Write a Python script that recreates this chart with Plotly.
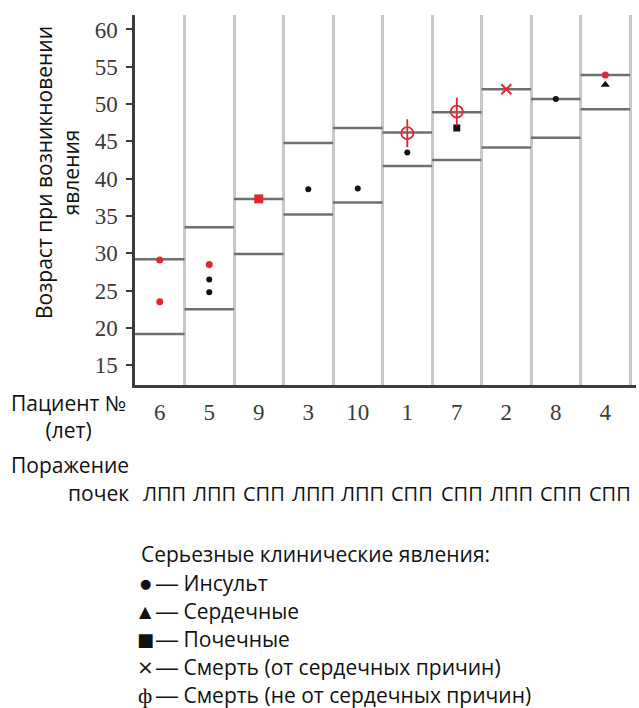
import plotly.graph_objects as go

# ---------------- data ----------------
patients = ["6", "5", "9", "3", "10", "1", "7", "2", "8", "4"]
kidney = ["ЛПП", "ЛПП", "СПП", "ЛПП", "ЛПП", "СПП", "СПП", "ЛПП", "СПП", "СПП"]
age_start = [19.2, 22.5, 29.9, 35.2, 36.8, 41.7, 42.5, 44.2, 45.5, 49.3]
age_now = [29.2, 33.5, 37.3, 44.8, 46.8, 46.2, 48.9, 52.0, 50.7, 53.9]

stroke_pat = ["5", "5", "3", "10", "1", "8"]
stroke_age = [26.5, 24.8, 38.6, 38.7, 43.5, 50.7]
stroke_red_pat = ["6", "6", "5", "4"]
stroke_red_age = [29.1, 23.5, 28.5, 53.9]
cardiac_pat = ["4"]
cardiac_age = [52.6]
renal_pat = ["7"]
renal_age = [46.8]
renal_red_pat = ["9"]
renal_red_age = [37.3]
death_cv_pat = ["2"]
death_cv_age = [52.0]
death_other_pat = ["1", "7"]
death_other_age = [46.1, 49.0]

legend_title = "Серьезные клинические явления:"
legend_symbols = ["●", "▲", "■", "×", "ф"]
legend_labels = ["Инсульт", "Сердечные", "Почечные",
                 "Смерть (от сердечных причин)", "Смерть (не от сердечных причин)"]

# ---------------- figure ----------------
W, H = 639, 708
L, R, T, B = 135, 3, 15, 323
PW, PH = W - L - R, H - T - B
SANS = "Open Sans"
SERIF = "Liberation Serif"
RED = "#e3262d"
BLACK = "#111111"
FS = 21

pos = {p: i for i, p in enumerate(patients)}

def px(x):
    return (x - L) / PW

def py(y):
    return (H - B - y) / PH

fig = go.Figure()

# horizontal age segments per patient
xs, ys = [], []
for i, (a, b) in enumerate(zip(age_start, age_now)):
    for v in (a, b):
        xs += [i - 0.5, i + 0.5, None]
        ys += [v, v, None]
fig.add_trace(go.Scatter(x=xs, y=ys, mode="lines",
                         line=dict(color="#6f6f6f", width=2.5), hoverinfo="skip"))

def add_markers(pats, ages, symbol, size, color, lw=0):
    fig.add_trace(go.Scatter(
        x=[pos[p] for p in pats], y=ages, mode="markers",
        marker=dict(symbol=symbol, size=size, color=color,
                    line=dict(color=color, width=lw))))

add_markers(stroke_pat, stroke_age, "circle", 6, BLACK)
add_markers(stroke_red_pat, stroke_red_age, "circle", 7, RED)
add_markers(cardiac_pat, cardiac_age, "triangle-up", 8, BLACK)
add_markers(renal_pat, renal_age, "square", 7, BLACK)
add_markers(renal_red_pat, renal_red_age, "square", 9, RED)
add_markers(death_cv_pat, death_cv_age, "x-thin-open", 10, RED, 2)
add_markers(death_other_pat, death_other_age, "circle-open", 12, RED, 1.8)
add_markers(death_other_pat, death_other_age, "line-ns-open", 20, RED, 1.8)

ann = []
txt = dict(xref="paper", yref="paper", showarrow=False,
           font=dict(family=SANS, size=FS, color="#111"))
ann.append(dict(text="Возраст при возникновении<br>явления", textangle=-90,
                x=px(57), y=py(173), xanchor="center", yanchor="middle", **txt))
ann.append(dict(text="Пациент №<br>(лет)", x=px(68), y=py(416),
                xanchor="center", yanchor="middle", **txt))
ann.append(dict(text="Поражение", x=px(131), y=py(465),
                xanchor="right", yanchor="middle", **txt))
ann.append(dict(text="почек", x=px(131), y=py(493),
                xanchor="right", yanchor="middle", **txt))
for p, k in zip(patients, kidney):
    ann.append(dict(text=k, x=pos[p], y=py(493), xref="x", yref="paper",
                    xanchor="center", yanchor="middle", showarrow=False, xshift=5,
                    font=dict(family=SANS, size=20, color="#111")))
# legend block
ann.append(dict(text=legend_title, x=px(139), y=py(554),
                xanchor="left", yanchor="middle", **txt))
sym_fonts = [
    dict(family="DejaVu Sans", size=13, color="#111"),
    dict(family="DejaVu Sans", size=16, color="#111"),
    dict(family="DejaVu Sans", size=18, color="#111"),
    dict(family="DejaVu Sans", size=20, color="#111"),
    dict(family=SERIF, size=22, color="#111"),
]
dash = '<span style="font-family:Liberation Sans;font-size:22px">—</span>'
for j, (s, lab) in enumerate(zip(legend_symbols, legend_labels)):
    yc = py(583 + 28 * j)
    ann.append(dict(text=s, x=px(145), y=yc, xref="paper", yref="paper",
                    xanchor="center", yanchor="middle", showarrow=False,
                    font=sym_fonts[j]))
    ann.append(dict(text=f'{dash} {lab}', x=px(154), y=yc,
                    xanchor="left", yanchor="middle", **txt))

fig.update_layout(
    width=W, height=H, margin=dict(l=L, r=R, t=T, b=B),
    paper_bgcolor="white", plot_bgcolor="white", showlegend=False,
    annotations=ann,
    xaxis=dict(range=[-0.5, 9.62], tickmode="array", tickvals=list(range(len(patients))),
               ticktext=patients, showgrid=False, zeroline=False,
               showline=True, linecolor="#3c3c3c", linewidth=2.5, ticks="",
               ticklabelstandoff=5,
               tickfont=dict(family=SERIF, size=23, color="#3a3a3a"),
               minor=dict(tickmode="array", tickvals=[i + 0.5 for i in range(len(patients))],
                          showgrid=True, gridcolor="#c8c8c8", gridwidth=2.5, ticks="")),
    yaxis=dict(range=[12.36, 61.94], tickmode="array", tickvals=list(range(15, 61, 5)),
               showgrid=False, zeroline=False, showline=True, linecolor="#3c3c3c",
               linewidth=2.5, ticks="outside", ticklen=6, tickwidth=2, tickcolor="#3c3c3c",
               ticklabelstandoff=4,
               tickfont=dict(family=SERIF, size=23, color="#3a3a3a")),
)

fig.write_html("out.html", config={"displayModeBar": False},
               post_script="document.body.style.margin='0px';")
